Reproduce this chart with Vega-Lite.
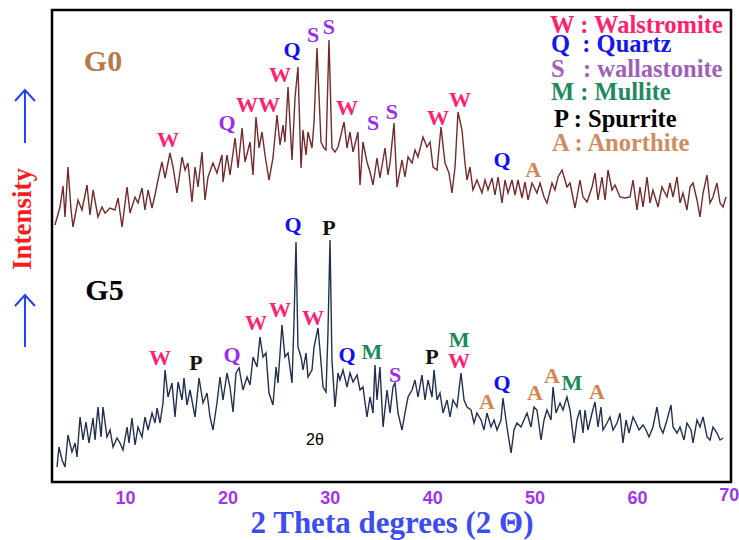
{
"$schema": "https://vega.github.io/schema/vega-lite/v6.json",
"width": 679, "height": 472,
"autosize": {"type": "none"},
"padding": {"left": 52, "top": 10, "right": 8, "bottom": 58},
"background": "white",
"config": {"view": {"stroke": "black", "strokeWidth": 2.5}},
"datasets": {
"xrd": [
{"sample":"G0","theta":3.16,"intensity":257},{"sample":"G0","theta":3.65,"intensity":275},{"sample":"G0","theta":3.95,"intensity":296},{"sample":"G0","theta":4.14,"intensity":265},{"sample":"G0","theta":4.43,"intensity":315},{"sample":"G0","theta":4.73,"intensity":272},{"sample":"G0","theta":4.92,"intensity":255},{"sample":"G0","theta":5.41,"intensity":282},{"sample":"G0","theta":5.8,"intensity":272},{"sample":"G0","theta":6.29,"intensity":297},{"sample":"G0","theta":6.58,"intensity":267},{"sample":"G0","theta":6.88,"intensity":292},{"sample":"G0","theta":7.36,"intensity":265},{"sample":"G0","theta":7.75,"intensity":275},{"sample":"G0","theta":8.05,"intensity":269},{"sample":"G0","theta":8.54,"intensity":274},{"sample":"G0","theta":9.02,"intensity":272},{"sample":"G0","theta":9.32,"intensity":284},{"sample":"G0","theta":9.71,"intensity":255},{"sample":"G0","theta":10.2,"intensity":295},{"sample":"G0","theta":10.49,"intensity":269},{"sample":"G0","theta":10.98,"intensity":285},{"sample":"G0","theta":11.27,"intensity":279},{"sample":"G0","theta":11.66,"intensity":294},{"sample":"G0","theta":11.95,"intensity":272},{"sample":"G0","theta":12.25,"intensity":292},{"sample":"G0","theta":12.64,"intensity":274},{"sample":"G0","theta":12.93,"intensity":287},{"sample":"G0","theta":13.22,"intensity":302},{"sample":"G0","theta":13.61,"intensity":320},{"sample":"G0","theta":13.91,"intensity":304},{"sample":"G0","theta":14.39,"intensity":329},{"sample":"G0","theta":14.69,"intensity":315},{"sample":"G0","theta":15.08,"intensity":289},{"sample":"G0","theta":15.57,"intensity":325},{"sample":"G0","theta":15.86,"intensity":312},{"sample":"G0","theta":16.15,"intensity":319},{"sample":"G0","theta":16.54,"intensity":280},{"sample":"G0","theta":16.84,"intensity":315},{"sample":"G0","theta":17.13,"intensity":295},{"sample":"G0","theta":17.52,"intensity":330},{"sample":"G0","theta":17.81,"intensity":282},{"sample":"G0","theta":18.11,"intensity":305},{"sample":"G0","theta":18.59,"intensity":319},{"sample":"G0","theta":18.98,"intensity":309},{"sample":"G0","theta":19.47,"intensity":327},{"sample":"G0","theta":19.57,"intensity":300},{"sample":"G0","theta":19.96,"intensity":327},{"sample":"G0","theta":20.25,"intensity":307},{"sample":"G0","theta":20.75,"intensity":344},{"sample":"G0","theta":21.04,"intensity":314},{"sample":"G0","theta":21.43,"intensity":354},{"sample":"G0","theta":21.72,"intensity":320},{"sample":"G0","theta":22.21,"intensity":340},{"sample":"G0","theta":22.5,"intensity":307},{"sample":"G0","theta":22.79,"intensity":365},{"sample":"G0","theta":23.09,"intensity":334},{"sample":"G0","theta":23.38,"intensity":350},{"sample":"G0","theta":23.67,"intensity":327},{"sample":"G0","theta":24.06,"intensity":302},{"sample":"G0","theta":24.45,"intensity":324},{"sample":"G0","theta":24.84,"intensity":367},{"sample":"G0","theta":25.14,"intensity":337},{"sample":"G0","theta":25.43,"intensity":357},{"sample":"G0","theta":25.62,"intensity":340},{"sample":"G0","theta":25.92,"intensity":395},{"sample":"G0","theta":26.31,"intensity":322},{"sample":"G0","theta":26.6,"intensity":384},{"sample":"G0","theta":26.89,"intensity":415},{"sample":"G0","theta":27.19,"intensity":314},{"sample":"G0","theta":27.38,"intensity":352},{"sample":"G0","theta":27.68,"intensity":327},{"sample":"G0","theta":27.87,"intensity":350},{"sample":"G0","theta":28.26,"intensity":334},{"sample":"G0","theta":28.46,"intensity":360},{"sample":"G0","theta":28.75,"intensity":434},{"sample":"G0","theta":29.14,"intensity":340},{"sample":"G0","theta":29.43,"intensity":334},{"sample":"G0","theta":29.63,"intensity":332},{"sample":"G0","theta":29.92,"intensity":442},{"sample":"G0","theta":30.21,"intensity":334},{"sample":"G0","theta":30.51,"intensity":330},{"sample":"G0","theta":30.8,"intensity":335},{"sample":"G0","theta":31.09,"intensity":347},{"sample":"G0","theta":31.39,"intensity":360},{"sample":"G0","theta":31.68,"intensity":334},{"sample":"G0","theta":31.97,"intensity":350},{"sample":"G0","theta":32.27,"intensity":330},{"sample":"G0","theta":32.75,"intensity":350},{"sample":"G0","theta":32.95,"intensity":297},{"sample":"G0","theta":33.24,"intensity":340},{"sample":"G0","theta":33.63,"intensity":320},{"sample":"G0","theta":33.93,"intensity":310},{"sample":"G0","theta":34.22,"intensity":297},{"sample":"G0","theta":34.61,"intensity":324},{"sample":"G0","theta":34.9,"intensity":304},{"sample":"G0","theta":35.39,"intensity":334},{"sample":"G0","theta":35.68,"intensity":307},{"sample":"G0","theta":35.88,"intensity":319},{"sample":"G0","theta":36.27,"intensity":359},{"sample":"G0","theta":36.56,"intensity":295},{"sample":"G0","theta":37.05,"intensity":322},{"sample":"G0","theta":37.34,"intensity":305},{"sample":"G0","theta":37.64,"intensity":325},{"sample":"G0","theta":38.03,"intensity":319},{"sample":"G0","theta":38.32,"intensity":332},{"sample":"G0","theta":38.61,"intensity":325},{"sample":"G0","theta":39.1,"intensity":345},{"sample":"G0","theta":39.49,"intensity":335},{"sample":"G0","theta":39.79,"intensity":340},{"sample":"G0","theta":40.08,"intensity":315},{"sample":"G0","theta":40.47,"intensity":312},{"sample":"G0","theta":40.86,"intensity":355},{"sample":"G0","theta":41.25,"intensity":319},{"sample":"G0","theta":41.64,"intensity":309},{"sample":"G0","theta":41.93,"intensity":289},{"sample":"G0","theta":42.23,"intensity":315},{"sample":"G0","theta":42.52,"intensity":370},{"sample":"G0","theta":42.91,"intensity":352},{"sample":"G0","theta":43.2,"intensity":319},{"sample":"G0","theta":43.4,"intensity":302},{"sample":"G0","theta":43.69,"intensity":315},{"sample":"G0","theta":43.98,"intensity":292},{"sample":"G0","theta":44.37,"intensity":302},{"sample":"G0","theta":44.86,"intensity":289},{"sample":"G0","theta":45.16,"intensity":302},{"sample":"G0","theta":45.45,"intensity":292},{"sample":"G0","theta":45.84,"intensity":304},{"sample":"G0","theta":46.13,"intensity":287},{"sample":"G0","theta":46.43,"intensity":305},{"sample":"G0","theta":46.82,"intensity":279},{"sample":"G0","theta":47.11,"intensity":302},{"sample":"G0","theta":47.4,"intensity":289},{"sample":"G0","theta":47.79,"intensity":302},{"sample":"G0","theta":48.09,"intensity":287},{"sample":"G0","theta":48.38,"intensity":302},{"sample":"G0","theta":48.77,"intensity":284},{"sample":"G0","theta":49.06,"intensity":300},{"sample":"G0","theta":49.36,"intensity":282},{"sample":"G0","theta":49.75,"intensity":299},{"sample":"G0","theta":50.23,"intensity":289},{"sample":"G0","theta":50.53,"intensity":299},{"sample":"G0","theta":50.92,"intensity":285},{"sample":"G0","theta":51.21,"intensity":279},{"sample":"G0","theta":51.7,"intensity":299},{"sample":"G0","theta":51.99,"intensity":292},{"sample":"G0","theta":52.29,"intensity":305},{"sample":"G0","theta":52.68,"intensity":312},{"sample":"G0","theta":53.16,"intensity":295},{"sample":"G0","theta":53.46,"intensity":299},{"sample":"G0","theta":53.95,"intensity":274},{"sample":"G0","theta":54.43,"intensity":302},{"sample":"G0","theta":54.73,"intensity":285},{"sample":"G0","theta":55.12,"intensity":280},{"sample":"G0","theta":55.61,"intensity":295},{"sample":"G0","theta":55.9,"intensity":309},{"sample":"G0","theta":56.19,"intensity":282},{"sample":"G0","theta":56.58,"intensity":305},{"sample":"G0","theta":56.88,"intensity":282},{"sample":"G0","theta":57.17,"intensity":312},{"sample":"G0","theta":57.56,"intensity":292},{"sample":"G0","theta":57.85,"intensity":297},{"sample":"G0","theta":58.34,"intensity":285},{"sample":"G0","theta":58.83,"intensity":284},{"sample":"G0","theta":59.32,"intensity":285},{"sample":"G0","theta":59.61,"intensity":302},{"sample":"G0","theta":60.0,"intensity":272},{"sample":"G0","theta":60.29,"intensity":295},{"sample":"G0","theta":60.59,"intensity":275},{"sample":"G0","theta":60.98,"intensity":305},{"sample":"G0","theta":61.27,"intensity":279},{"sample":"G0","theta":61.56,"intensity":292},{"sample":"G0","theta":62.05,"intensity":275},{"sample":"G0","theta":62.44,"intensity":295},{"sample":"G0","theta":62.93,"intensity":285},{"sample":"G0","theta":63.22,"intensity":299},{"sample":"G0","theta":63.52,"intensity":285},{"sample":"G0","theta":63.91,"intensity":305},{"sample":"G0","theta":64.2,"intensity":279},{"sample":"G0","theta":64.49,"intensity":289},{"sample":"G0","theta":64.88,"intensity":272},{"sample":"G0","theta":65.18,"intensity":295},{"sample":"G0","theta":65.47,"intensity":299},{"sample":"G0","theta":65.86,"intensity":282},{"sample":"G0","theta":66.15,"intensity":265},{"sample":"G0","theta":66.45,"intensity":289},{"sample":"G0","theta":66.84,"intensity":307},{"sample":"G0","theta":67.13,"intensity":279},{"sample":"G0","theta":67.42,"intensity":285},{"sample":"G0","theta":67.81,"intensity":299},{"sample":"G0","theta":68.11,"intensity":279},{"sample":"G0","theta":68.4,"intensity":275},{"sample":"G0","theta":68.69,"intensity":285},
{"sample":"G5","theta":3.36,"intensity":15},{"sample":"G5","theta":3.55,"intensity":35},{"sample":"G5","theta":3.85,"intensity":22},{"sample":"G5","theta":4.14,"intensity":15},{"sample":"G5","theta":4.43,"intensity":47},{"sample":"G5","theta":4.82,"intensity":30},{"sample":"G5","theta":5.12,"intensity":39},{"sample":"G5","theta":5.31,"intensity":25},{"sample":"G5","theta":5.61,"intensity":65},{"sample":"G5","theta":5.9,"intensity":42},{"sample":"G5","theta":6.19,"intensity":60},{"sample":"G5","theta":6.48,"intensity":39},{"sample":"G5","theta":6.88,"intensity":64},{"sample":"G5","theta":7.07,"intensity":42},{"sample":"G5","theta":7.36,"intensity":75},{"sample":"G5","theta":7.66,"intensity":45},{"sample":"G5","theta":7.85,"intensity":75},{"sample":"G5","theta":8.24,"intensity":45},{"sample":"G5","theta":8.54,"intensity":52},{"sample":"G5","theta":8.83,"intensity":35},{"sample":"G5","theta":9.22,"intensity":44},{"sample":"G5","theta":9.51,"intensity":39},{"sample":"G5","theta":9.8,"intensity":32},{"sample":"G5","theta":10.2,"intensity":55},{"sample":"G5","theta":10.39,"intensity":39},{"sample":"G5","theta":10.68,"intensity":64},{"sample":"G5","theta":10.98,"intensity":37},{"sample":"G5","theta":11.27,"intensity":55},{"sample":"G5","theta":11.66,"intensity":45},{"sample":"G5","theta":11.95,"intensity":65},{"sample":"G5","theta":12.25,"intensity":52},{"sample":"G5","theta":12.64,"intensity":69},{"sample":"G5","theta":12.93,"intensity":59},{"sample":"G5","theta":13.13,"intensity":74},{"sample":"G5","theta":13.42,"intensity":59},{"sample":"G5","theta":13.71,"intensity":79},{"sample":"G5","theta":13.91,"intensity":112},{"sample":"G5","theta":14.2,"intensity":85},{"sample":"G5","theta":14.59,"intensity":99},{"sample":"G5","theta":14.88,"intensity":65},{"sample":"G5","theta":15.18,"intensity":100},{"sample":"G5","theta":15.57,"intensity":82},{"sample":"G5","theta":15.76,"intensity":104},{"sample":"G5","theta":16.05,"intensity":77},{"sample":"G5","theta":16.35,"intensity":92},{"sample":"G5","theta":16.84,"intensity":65},{"sample":"G5","theta":17.23,"intensity":104},{"sample":"G5","theta":17.62,"intensity":79},{"sample":"G5","theta":18.01,"intensity":89},{"sample":"G5","theta":18.3,"intensity":65},{"sample":"G5","theta":18.59,"intensity":52},{"sample":"G5","theta":18.98,"intensity":79},{"sample":"G5","theta":19.28,"intensity":105},{"sample":"G5","theta":19.57,"intensity":82},{"sample":"G5","theta":19.96,"intensity":109},{"sample":"G5","theta":20.25,"intensity":95},{"sample":"G5","theta":20.55,"intensity":70},{"sample":"G5","theta":20.84,"intensity":109},{"sample":"G5","theta":21.14,"intensity":114},{"sample":"G5","theta":21.52,"intensity":92},{"sample":"G5","theta":21.92,"intensity":105},{"sample":"G5","theta":22.21,"intensity":97},{"sample":"G5","theta":22.5,"intensity":125},{"sample":"G5","theta":22.89,"intensity":115},{"sample":"G5","theta":23.18,"intensity":145},{"sample":"G5","theta":23.48,"intensity":125},{"sample":"G5","theta":23.77,"intensity":129},{"sample":"G5","theta":24.06,"intensity":89},{"sample":"G5","theta":24.45,"intensity":77},{"sample":"G5","theta":24.75,"intensity":115},{"sample":"G5","theta":24.94,"intensity":99},{"sample":"G5","theta":25.33,"intensity":157},{"sample":"G5","theta":25.62,"intensity":125},{"sample":"G5","theta":25.92,"intensity":129},{"sample":"G5","theta":26.31,"intensity":99},{"sample":"G5","theta":26.5,"intensity":159},{"sample":"G5","theta":26.7,"intensity":240},{"sample":"G5","theta":26.89,"intensity":135},{"sample":"G5","theta":27.19,"intensity":125},{"sample":"G5","theta":27.38,"intensity":112},{"sample":"G5","theta":27.68,"intensity":129},{"sample":"G5","theta":27.87,"intensity":105},{"sample":"G5","theta":28.26,"intensity":112},{"sample":"G5","theta":28.46,"intensity":135},{"sample":"G5","theta":28.85,"intensity":154},{"sample":"G5","theta":29.04,"intensity":132},{"sample":"G5","theta":29.34,"intensity":95},{"sample":"G5","theta":29.63,"intensity":90},{"sample":"G5","theta":29.82,"intensity":149},{"sample":"G5","theta":30.02,"intensity":242},{"sample":"G5","theta":30.21,"intensity":122},{"sample":"G5","theta":30.51,"intensity":75},{"sample":"G5","theta":30.8,"intensity":109},{"sample":"G5","theta":30.99,"intensity":102},{"sample":"G5","theta":31.29,"intensity":112},{"sample":"G5","theta":31.68,"intensity":95},{"sample":"G5","theta":31.97,"intensity":109},{"sample":"G5","theta":32.27,"intensity":100},{"sample":"G5","theta":32.66,"intensity":107},{"sample":"G5","theta":32.95,"intensity":92},{"sample":"G5","theta":33.24,"intensity":95},{"sample":"G5","theta":33.63,"intensity":65},{"sample":"G5","theta":33.93,"intensity":85},{"sample":"G5","theta":34.22,"intensity":69},{"sample":"G5","theta":34.41,"intensity":117},{"sample":"G5","theta":34.61,"intensity":82},{"sample":"G5","theta":34.9,"intensity":115},{"sample":"G5","theta":35.2,"intensity":55},{"sample":"G5","theta":35.59,"intensity":92},{"sample":"G5","theta":35.88,"intensity":69},{"sample":"G5","theta":36.17,"intensity":95},{"sample":"G5","theta":36.37,"intensity":99},{"sample":"G5","theta":36.66,"intensity":69},{"sample":"G5","theta":37.05,"intensity":52},{"sample":"G5","theta":37.34,"intensity":69},{"sample":"G5","theta":37.64,"intensity":85},{"sample":"G5","theta":38.03,"intensity":92},{"sample":"G5","theta":38.32,"intensity":102},{"sample":"G5","theta":38.61,"intensity":85},{"sample":"G5","theta":39.0,"intensity":107},{"sample":"G5","theta":39.3,"intensity":82},{"sample":"G5","theta":39.59,"intensity":102},{"sample":"G5","theta":39.98,"intensity":85},{"sample":"G5","theta":40.18,"intensity":112},{"sample":"G5","theta":40.47,"intensity":82},{"sample":"G5","theta":40.76,"intensity":89},{"sample":"G5","theta":41.06,"intensity":69},{"sample":"G5","theta":41.45,"intensity":82},{"sample":"G5","theta":41.74,"intensity":65},{"sample":"G5","theta":42.03,"intensity":82},{"sample":"G5","theta":42.42,"intensity":75},{"sample":"G5","theta":42.81,"intensity":109},{"sample":"G5","theta":43.11,"intensity":82},{"sample":"G5","theta":43.4,"intensity":75},{"sample":"G5","theta":43.79,"intensity":72},{"sample":"G5","theta":44.08,"intensity":59},{"sample":"G5","theta":44.37,"intensity":69},{"sample":"G5","theta":44.77,"intensity":62},{"sample":"G5","theta":45.06,"intensity":52},{"sample":"G5","theta":45.35,"intensity":69},{"sample":"G5","theta":45.74,"intensity":55},{"sample":"G5","theta":46.04,"intensity":62},{"sample":"G5","theta":46.33,"intensity":52},{"sample":"G5","theta":46.72,"intensity":62},{"sample":"G5","theta":46.91,"intensity":84},{"sample":"G5","theta":47.3,"intensity":55},{"sample":"G5","theta":47.7,"intensity":29},{"sample":"G5","theta":47.99,"intensity":52},{"sample":"G5","theta":48.28,"intensity":59},{"sample":"G5","theta":48.67,"intensity":55},{"sample":"G5","theta":48.96,"intensity":62},{"sample":"G5","theta":49.26,"intensity":69},{"sample":"G5","theta":49.65,"intensity":55},{"sample":"G5","theta":49.94,"intensity":75},{"sample":"G5","theta":50.23,"intensity":72},{"sample":"G5","theta":50.63,"intensity":42},{"sample":"G5","theta":50.92,"intensity":62},{"sample":"G5","theta":51.21,"intensity":72},{"sample":"G5","theta":51.6,"intensity":62},{"sample":"G5","theta":51.8,"intensity":95},{"sample":"G5","theta":52.09,"intensity":69},{"sample":"G5","theta":52.48,"intensity":79},{"sample":"G5","theta":52.77,"intensity":72},{"sample":"G5","theta":53.16,"intensity":85},{"sample":"G5","theta":53.46,"intensity":72},{"sample":"G5","theta":53.85,"intensity":39},{"sample":"G5","theta":54.14,"intensity":62},{"sample":"G5","theta":54.43,"intensity":72},{"sample":"G5","theta":54.73,"intensity":49},{"sample":"G5","theta":54.92,"intensity":72},{"sample":"G5","theta":55.21,"intensity":52},{"sample":"G5","theta":55.61,"intensity":69},{"sample":"G5","theta":55.9,"intensity":80},{"sample":"G5","theta":56.19,"intensity":55},{"sample":"G5","theta":56.48,"intensity":75},{"sample":"G5","theta":56.68,"intensity":52},{"sample":"G5","theta":57.07,"intensity":59},{"sample":"G5","theta":57.36,"intensity":65},{"sample":"G5","theta":57.66,"intensity":52},{"sample":"G5","theta":58.05,"intensity":59},{"sample":"G5","theta":58.34,"intensity":69},{"sample":"G5","theta":58.63,"intensity":39},{"sample":"G5","theta":58.93,"intensity":62},{"sample":"G5","theta":59.22,"intensity":49},{"sample":"G5","theta":59.61,"intensity":65},{"sample":"G5","theta":59.9,"intensity":59},{"sample":"G5","theta":60.2,"intensity":52},{"sample":"G5","theta":60.59,"intensity":57},{"sample":"G5","theta":60.88,"intensity":52},{"sample":"G5","theta":61.17,"intensity":45},{"sample":"G5","theta":61.56,"intensity":55},{"sample":"G5","theta":61.95,"intensity":75},{"sample":"G5","theta":62.25,"intensity":55},{"sample":"G5","theta":62.54,"intensity":49},{"sample":"G5","theta":62.93,"intensity":62},{"sample":"G5","theta":63.32,"intensity":77},{"sample":"G5","theta":63.52,"intensity":55},{"sample":"G5","theta":63.91,"intensity":49},{"sample":"G5","theta":64.2,"intensity":55},{"sample":"G5","theta":64.59,"intensity":42},{"sample":"G5","theta":64.88,"intensity":59},{"sample":"G5","theta":65.28,"intensity":52},{"sample":"G5","theta":65.47,"intensity":39},{"sample":"G5","theta":65.86,"intensity":62},{"sample":"G5","theta":66.15,"intensity":55},{"sample":"G5","theta":66.45,"intensity":65},{"sample":"G5","theta":66.84,"intensity":45},{"sample":"G5","theta":67.13,"intensity":42},{"sample":"G5","theta":67.42,"intensity":55},{"sample":"G5","theta":67.81,"intensity":49},{"sample":"G5","theta":68.11,"intensity":42},{"sample":"G5","theta":68.4,"intensity":44}
],
"peaks": [
{"t":"W","phase":"W","theta":14.2,"intensity":342},{"t":"Q","phase":"Qp","theta":19.96,"intensity":359},{"t":"WW","phase":"W","theta":22.99,"intensity":377},{"t":"W","phase":"W","theta":25.14,"intensity":407},{"t":"Q","phase":"Q","theta":26.31,"intensity":432},{"t":"S","phase":"S","theta":28.36,"intensity":447},{"t":"S","phase":"S","theta":29.92,"intensity":455},{"t":"W","phase":"W","theta":31.68,"intensity":374},{"t":"S","phase":"S","theta":34.22,"intensity":359},{"t":"S","phase":"S","theta":36.07,"intensity":370},{"t":"W","phase":"W","theta":40.57,"intensity":364},{"t":"W","phase":"W","theta":42.72,"intensity":382},{"t":"Q","phase":"Q","theta":46.82,"intensity":322},{"t":"A","phase":"A","theta":49.85,"intensity":312},
{"t":"Q","phase":"Q","theta":26.41,"intensity":257},{"t":"P","phase":"P","theta":29.92,"intensity":254},{"t":"W","phase":"W","theta":13.42,"intensity":124},{"t":"P","phase":"P","theta":16.93,"intensity":119},{"t":"Q","phase":"Qp","theta":20.45,"intensity":127},{"t":"W","phase":"W","theta":22.79,"intensity":159},{"t":"W","phase":"W","theta":25.14,"intensity":172},{"t":"W","phase":"W","theta":28.36,"intensity":164},{"t":"Q","phase":"Q","theta":31.68,"intensity":127},{"t":"M","phase":"M","theta":34.12,"intensity":130},{"t":"S","phase":"S","theta":36.37,"intensity":107},{"t":"P","phase":"P","theta":39.98,"intensity":125},{"t":"M","phase":"M","theta":42.62,"intensity":142},{"t":"W","phase":"W","theta":42.62,"intensity":121},{"t":"A","phase":"A","theta":45.35,"intensity":80},{"t":"Q","phase":"Q","theta":46.82,"intensity":99},{"t":"A","phase":"A","theta":50.04,"intensity":89},{"t":"A","phase":"A","theta":51.7,"intensity":106},{"t":"M","phase":"M","theta":53.65,"intensity":99},{"t":"A","phase":"A","theta":56.09,"intensity":90}
],
"legend": [
{"t":"W : Walstromite","phase":"W","theta":51.5,"intensity":456},
{"t":"Q\u00a0\u00a0: Quartz","phase":"Q","theta":51.6,"intensity":437},
{"t":"S\u00a0\u00a0 : wallastonite","phase":"S","theta":51.6,"intensity":412},
{"t":"M : Mullite","phase":"M","theta":51.6,"intensity":389},
{"t":"P : Spurrite","phase":"P","theta":51.9,"intensity":362},
{"t":"A : Anorthite","phase":"A","theta":51.7,"intensity":338}
],
"ticks": [
{"theta":10,"kind":"major"},{"theta":20,"kind":"major"},{"theta":30,"kind":"major"},{"theta":40,"kind":"major"},{"theta":50,"kind":"major"},{"theta":60,"kind":"major"},
{"theta":5,"kind":"minor"},{"theta":15,"kind":"minor"},{"theta":25,"kind":"minor"},{"theta":35,"kind":"minor"},{"theta":45,"kind":"minor"},{"theta":55,"kind":"minor"},{"theta":65,"kind":"minor"}
]
},
"encoding": {
"x": {"field":"theta","type":"quantitative","scale":{"domain":[2.87,69.18],"nice":false,"zero":false},
 "axis":{"values":[10,20,30,40,50,60],"ticks":false,"domain":false,"grid":false,"labelFont":"Liberation Sans","labelFontSize":18,"labelFontWeight":"bold","labelColor":"#a035f0","labelPadding":7,"labelFlush":false,"labelOverlap":false,"labelBound":false,"title":"2 Theta degrees (2 Θ)","titleFont":"Liberation Serif","titleFontSize":31,"titleFontWeight":"bold","titleColor":"#3c4cf2","titlePadding":1}},
"y": {"field":"intensity","type":"quantitative","scale":{"domain":[0,472],"nice":false,"zero":false},"axis":null}
},
"layer": [
{"data":{"name":"xrd"},"mark":{"type":"line","strokeWidth":1.4,"interpolate":"linear"},
 "encoding":{"color":{"field":"sample","type":"nominal","scale":{"domain":["G0","G5"],"range":["#742a2a","#22304f"]},"legend":null},"detail":{"field":"sample"}}},
{"data":{"name":"ticks"},"transform":[{"filter":"datum.kind == 'major'"}],"mark":{"type":"rule","strokeWidth":3,"color":"black"},
 "encoding":{"y":{"datum":0,"type":"quantitative"},"y2":{"datum":10}}},
{"data":{"name":"ticks"},"transform":[{"filter":"datum.kind == 'minor'"}],"mark":{"type":"rule","strokeWidth":3,"color":"black"},
 "encoding":{"y":{"datum":0,"type":"quantitative"},"y2":{"datum":7}}},
{"data":{"name":"peaks"},"mark":{"type":"text","font":"Liberation Serif","fontSize":22,"fontWeight":"bold","baseline":"middle","align":"center"},
 "encoding":{"text":{"field":"t"},"color":{"field":"phase","type":"nominal","scale":{"domain":["W","Q","Qp","S","M","P","A"],"range":["#ff1f75","#1010ff","#9b2cf0","#9b2cf0","#1a8a5a","#1a1200","#d0864e"]},"legend":null}}},
{"data":{"name":"legend"},"mark":{"type":"text","font":"Liberation Serif","fontSize":24.5,"fontWeight":"bold","baseline":"middle","align":"left"},
 "encoding":{"text":{"field":"t"},"color":{"field":"phase","type":"nominal","scale":{"domain":["W","Q","S","M","P","A"],"range":["#ff2070","#1515f0","#a060b8","#1f8a5c","#000000","#cf8c5e"]},"legend":null}}},
{"data":{"values":[{"t":"70","theta":69.0,"intensity":-14}]},"mark":{"type":"text","font":"Liberation Sans","fontSize":18,"fontWeight":"bold","baseline":"middle","align":"center","color":"#a035f0"},"encoding":{"text":{"field":"t"}}},
{"data":{"values":[{"t":"G0","theta":7.85,"intensity":420}]},"mark":{"type":"text","font":"Liberation Serif","fontSize":30,"fontWeight":"bold","baseline":"middle","color":"#b47a4a"},"encoding":{"text":{"field":"t"}}},
{"data":{"values":[{"t":"G5","theta":8.0,"intensity":191}]},"mark":{"type":"text","font":"Liberation Serif","fontSize":30,"fontWeight":"bold","baseline":"middle","color":"#000000"},"encoding":{"text":{"field":"t"}}},
{"data":{"values":[{"t":"2θ","theta":28.55,"intensity":42}]},"mark":{"type":"text","font":"Liberation Sans","fontSize":16,"baseline":"middle","color":"#000000"},"encoding":{"text":{"field":"t"}}},
{"data":{"values":[{"t":"Intensity","theta":0.0,"intensity":263}]},"mark":{"type":"text","font":"Liberation Serif","fontSize":27,"fontWeight":"bold","baseline":"middle","align":"center","angle":270,"color":"#ff1a1a"},"encoding":{"text":{"field":"t"}}},
{"data":{"values":[{"theta":0.23,"intensity":339,"top":391},{"theta":0.23,"intensity":135,"top":186}]},"mark":{"type":"rule","strokeWidth":2,"color":"#2040ff"},"encoding":{"y2":{"field":"top"}}},
{"data":{"values":[{"theta":0.23,"intensity":392},{"theta":0.23,"intensity":187}]},"mark":{"type":"point","shape":"M-1,1.1L0,0L1,1.1","filled":false,"strokeWidth":2,"size":400,"color":"#2040ff","opacity":1},"encoding":{}}
],
"resolve": {"scale": {"color": "independent"}}
}
